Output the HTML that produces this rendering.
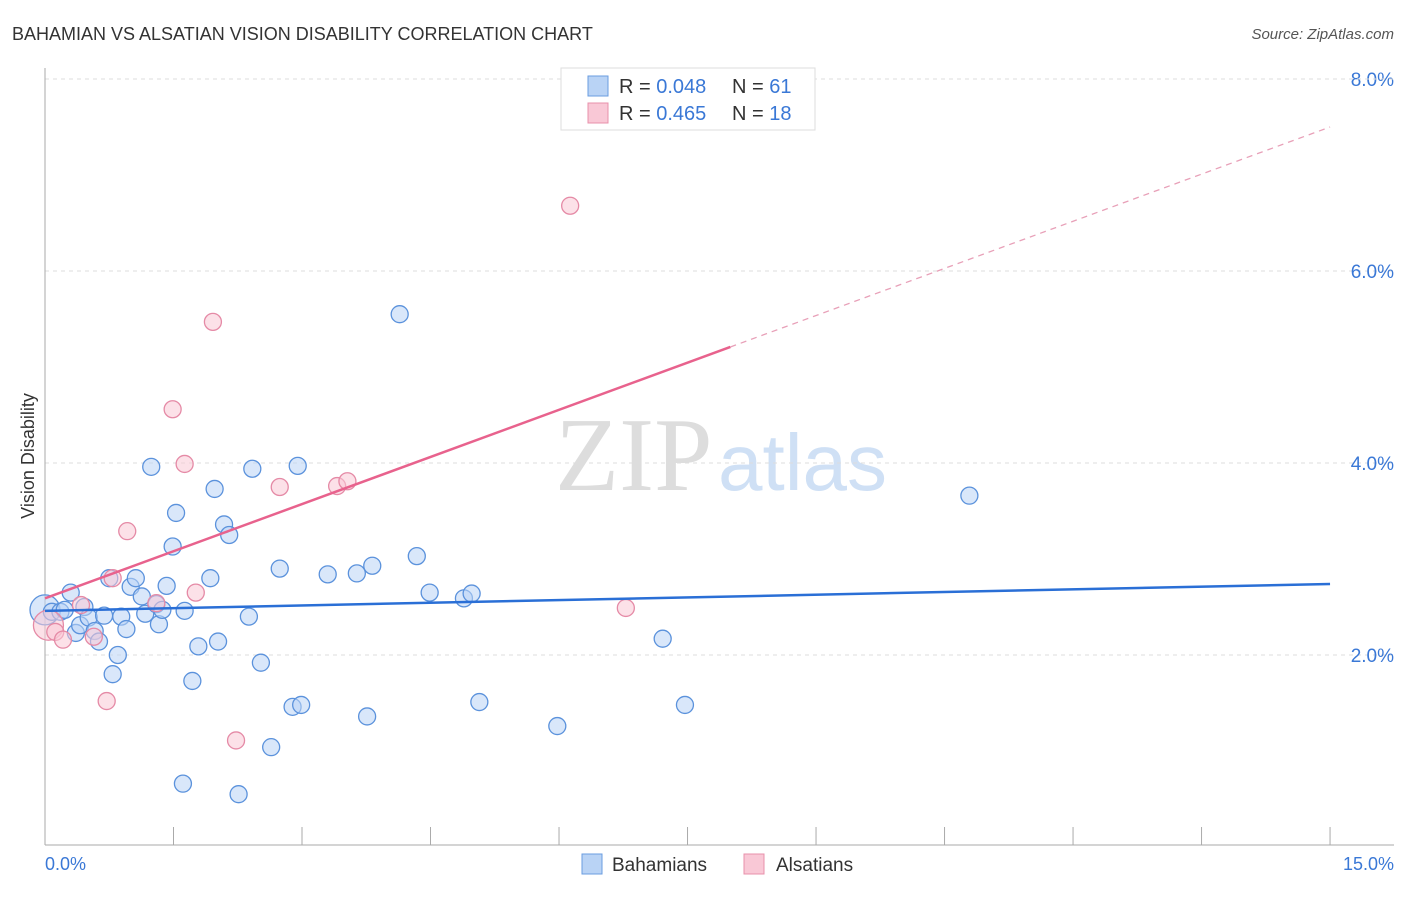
<!DOCTYPE html>
<html><head><meta charset="utf-8"><style>
body{margin:0;background:#fff;font-family:"Liberation Sans",sans-serif;}
</style></head><body>
<svg width="1406" height="892" xmlns="http://www.w3.org/2000/svg" font-family="Liberation Sans, sans-serif">
<text x="12" y="40" font-size="18" fill="#333">BAHAMIAN VS ALSATIAN VISION DISABILITY CORRELATION CHART</text>
<text x="1394" y="39" font-size="15" fill="#555" font-style="italic" text-anchor="end">Source: ZipAtlas.com</text>
<text x="555" y="490" font-size="105" fill="#ddd" font-family="Liberation Serif, serif">ZIP</text>
<text x="718" y="490" font-size="80" fill="#cfe0f5">atlas</text>
<g id="grid"></g><g id="axes"></g><g id="marks"></g>
<text transform="translate(34,456) rotate(-90)" font-size="18" fill="#333" text-anchor="middle">Vision Disability</text>
<text x="45" y="870" font-size="18" fill="#3a78d6">0.0%</text>
<text x="1394" y="870" font-size="18" fill="#3a78d6" text-anchor="end">15.0%</text>
<g>
<rect x="561" y="68" width="254" height="62" fill="#fff" stroke="#ddd"/>
<rect x="588" y="76" width="20" height="20" fill="#b9d3f5" stroke="#6a9de0"/>
<text x="619" y="93" font-size="20" fill="#333">R = <tspan fill="#3a78d6">0.048</tspan></text>
<text x="732" y="93" font-size="20" fill="#333">N = <tspan fill="#3a78d6">61</tspan></text>
<rect x="588" y="103" width="20" height="20" fill="#f9c8d6" stroke="#e890ab"/>
<text x="619" y="120" font-size="20" fill="#333">R = <tspan fill="#3a78d6">0.465</tspan></text>
<text x="732" y="120" font-size="20" fill="#333">N = <tspan fill="#3a78d6">18</tspan></text>
</g>
<g>
<rect x="582" y="854" width="20" height="20" fill="#b9d3f5" stroke="#6a9de0"/>
<text x="612" y="871" font-size="19" fill="#333">Bahamians</text>
<rect x="744" y="854" width="20" height="20" fill="#f9c8d6" stroke="#e890ab"/>
<text x="776" y="871" font-size="19" fill="#333">Alsatians</text>
</g>
</svg>
<script>
const yTicks=[2,4,6,8];
const yTickLabels=["2.0%","4.0%","6.0%","8.0%"];
const xTicks=[0,1.5,3,4.5,6,7.5,9,10.5,12,13.5,15];
const bahX=[0,0.08,0.18,0.23,0.30,0.36,0.41,0.46,0.51,0.58,0.63,0.69,0.75,0.79,0.85,0.89,0.95,1.00,1.06,1.13,1.17,1.24,1.30,1.33,1.37,1.42,1.49,1.53,1.61,1.63,1.72,1.79,1.93,1.98,2.02,2.09,2.15,2.26,2.38,2.42,2.52,2.64,2.74,2.89,2.95,2.99,3.30,3.64,3.76,3.82,4.14,4.34,4.49,4.89,4.98,5.07,5.98,7.21,7.47,10.79];
const bahY=[2.47,2.45,2.45,2.47,2.65,2.23,2.31,2.50,2.39,2.25,2.14,2.41,2.80,1.80,2.00,2.40,2.27,2.71,2.80,2.61,2.43,3.96,2.53,2.32,2.47,2.72,3.13,3.48,0.66,2.46,1.73,2.09,2.80,3.73,2.14,3.36,3.25,0.55,2.40,3.94,1.92,1.04,2.90,1.46,3.97,1.48,2.84,2.85,1.36,2.93,5.55,3.03,2.65,2.59,2.64,1.51,1.26,2.17,1.48,3.66];
const alsX=[0.04,0.12,0.21,0.42,0.57,0.72,0.79,0.96,1.30,1.49,1.63,1.76,1.96,2.23,2.74,3.41,3.53,6.13,6.78];
const alsY=[2.31,2.24,2.16,2.52,2.19,1.52,2.80,3.29,2.54,4.56,3.99,2.65,5.47,1.11,3.75,3.76,3.81,6.68,2.49];
const bahTrend=[2.46,2.74];
const alsTrend=[2.59,7.50];
const alsSolidEnd=8.0;
const NS="http://www.w3.org/2000/svg";
const xs=v=>45+v*85.67, ys=v=>847-v*96;
function mk(t,a,p){const e=document.createElementNS(NS,t);for(const k in a)e.setAttribute(k,a[k]);p.appendChild(e);return e;}
const grid=document.getElementById('grid'),axes=document.getElementById('axes'),marks=document.getElementById('marks');
yTicks.forEach((t,i)=>{
 const l=mk('line',{x1:45,x2:1394,y1:ys(t),y2:ys(t),stroke:'#ddd','stroke-dasharray':'4,4'},grid);
 
 
 const tx=mk('text',{x:1394,y:ys(t)+7,'font-size':19,fill:'#3a78d6','text-anchor':'end'},grid);
 tx.textContent=yTickLabels[i];
 
 
});
const topGrid=mk('line',{x1:45,x2:1394,y1:79,y2:79,stroke:'#ddd','stroke-dasharray':'4,4'},grid);


const ya=mk('line',{x1:45,x2:45,y1:68,y2:845,stroke:'#aaa'},axes);


const xa=mk('line',{x1:45,x2:1394,y1:845,y2:845,stroke:'#aaa'},axes);


xTicks.forEach(t=>{
 const l=mk('line',{x1:xs(t),x2:xs(t),y1:827,y2:845,stroke:'#aaa'},axes);
 
 
});
function dot(x,y,fill,stroke,name,r){
 const c=mk('circle',{cx:xs(x),cy:ys(y),r:r,fill:fill,'fill-opacity':0.55,stroke:stroke,'stroke-width':1.3},marks);
 
 
}
bahX.forEach((x,i)=>dot(x,bahY[i],'#b9d3f5','#5b92dc','bahamian-point',i==0?15:8.5));
alsX.forEach((x,i)=>dot(x,alsY[i],'#f9c8d6','#e58aa6','alsatian-point',i==0?15:8.5));
const bl=mk('line',{x1:xs(0),y1:ys(bahTrend[0]),x2:xs(15),y2:ys(bahTrend[1]),stroke:'#2a6fd6','stroke-width':2.5},marks);


const ay=x=>alsTrend[0]+(alsTrend[1]-alsTrend[0])*x/15;
const pl=mk('line',{x1:xs(0),y1:ys(ay(0)),x2:xs(alsSolidEnd),y2:ys(ay(alsSolidEnd)),stroke:'#e8628d','stroke-width':2.5},marks);


const pd=mk('line',{x1:xs(alsSolidEnd),y1:ys(ay(alsSolidEnd)),x2:xs(15),y2:ys(ay(15)),stroke:'#e8a0b8','stroke-width':1.3,'stroke-dasharray':'6,5'},marks);


</script>
</body></html>
